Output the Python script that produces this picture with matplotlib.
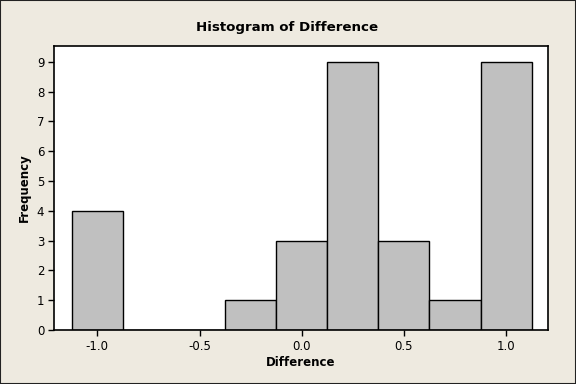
import matplotlib
matplotlib.use("Agg")
import matplotlib.pyplot as plt
from matplotlib.patches import Rectangle

bin_centers = [-1.0, -0.75, -0.5, -0.25, 0.0, 0.25, 0.5, 0.75, 1.0]
counts = [4, 0, 0, 1, 3, 9, 3, 1, 9]
bin_width = 0.25
x_ticks = [-1.0, -0.5, 0.0, 0.5, 1.0]
x_tick_labels = ["-1.0", "-0.5", "0.0", "0.5", "1.0"]
y_ticks = list(range(10))

bg = "#EEEAE0"
fig = plt.figure(figsize=(5.76, 3.84), dpi=100, facecolor=bg)
ax = fig.add_axes([54/576, 1 - 330/384, (548-54)/576, (330-46)/384])
ax.set_facecolor("white")

ax.bar(bin_centers, counts, width=bin_width, color="#C0C0C0",
       edgecolor="black", linewidth=1.0, align="center", zorder=2)

ax.set_xlim(-1.212, 1.205)
ax.set_ylim(0, 9.53)
ax.set_xticks(x_ticks)
ax.set_xticklabels(x_tick_labels)
ax.set_yticks(y_ticks)
for s in ax.spines.values():
    s.set_linewidth(1.2)
    s.set_color("black")
ax.tick_params(direction="out", length=4, width=1, labelsize=8.5, pad=3, colors="black")

ax.set_xlabel("Difference", fontsize=8.5, fontweight="bold", labelpad=2)
ax.set_ylabel("Frequency", fontsize=8.5, fontweight="bold", labelpad=4)
fig.text(287/576, 1 - 27/384, "Histogram of Difference", fontsize=9.6,
         fontweight="bold", ha="center", va="center")

fig.patches.append(Rectangle((0, 0), 1, 1, transform=fig.transFigure,
                             fill=False, edgecolor="#222222", linewidth=1.5))

fig.savefig("out.png", dpi=100, facecolor=bg)
